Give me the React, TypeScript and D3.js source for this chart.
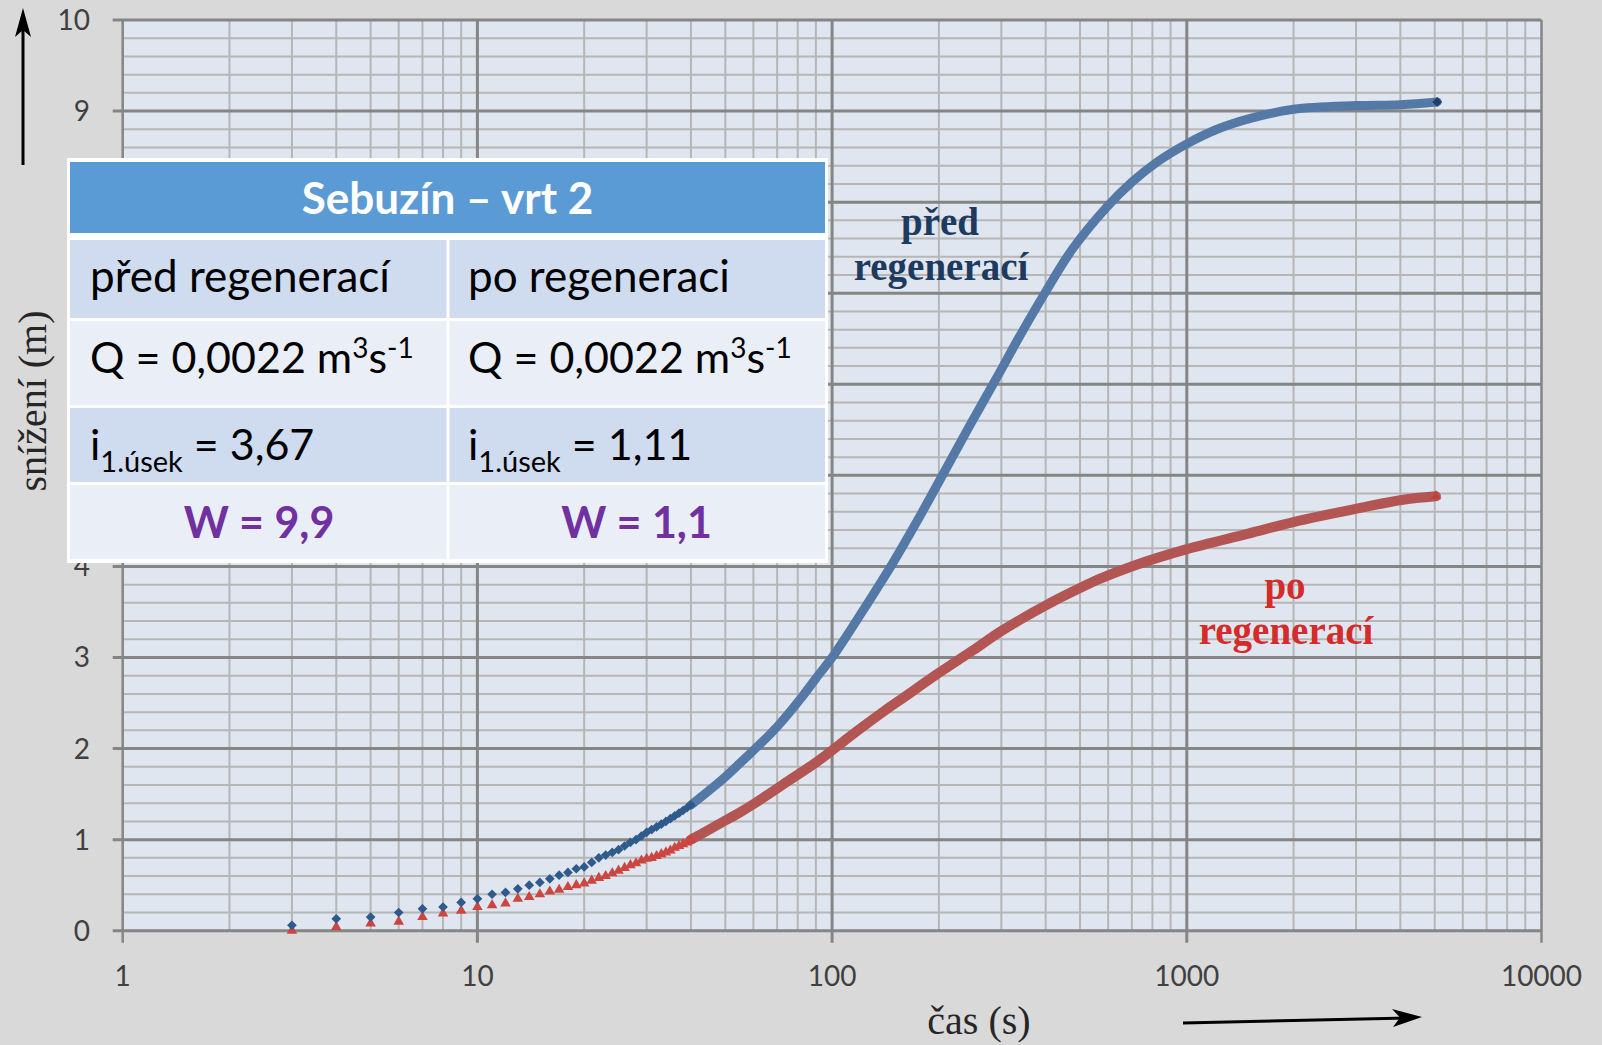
import React from 'react';
import * as d3 from 'd3';

const W = 1602;
const H = 1045;

const xTickValues = [1, 10, 100, 1000, 10000];
const xTickLabels = ['1', '10', '100', '1000', '10000'];
const yTickValues = [0, 1, 2, 3, 4, 5, 6, 7, 8, 9, 10];
const yTickLabels = ['0', '1', '2', '3', '4', '5', '6', '7', '8', '9', '10'];

// discrete early readings (s)
const earlyTimes = [3, 4, 5, 6, 7, 8, 9, 10, 11, 12, 13, 14, 15, 16, 17, 18, 19, 20, 21, 22, 23, 24, 25, 26, 27, 28, 29, 30, 31, 32, 33, 34, 35, 36, 37, 38, 39, 40];
const earlyPred = [0.06, 0.13, 0.15, 0.2, 0.24, 0.26, 0.31, 0.35, 0.4, 0.42, 0.46, 0.5, 0.53, 0.57, 0.61, 0.64, 0.68, 0.7, 0.75, 0.8, 0.83, 0.86, 0.89, 0.93, 0.97, 1.0, 1.04, 1.08, 1.11, 1.14, 1.17, 1.2, 1.23, 1.26, 1.29, 1.32, 1.35, 1.38];
const earlyPo = [0.0, 0.04, 0.08, 0.1, 0.15, 0.19, 0.22, 0.26, 0.28, 0.3, 0.35, 0.37, 0.4, 0.43, 0.45, 0.48, 0.5, 0.52, 0.55, 0.58, 0.6, 0.63, 0.66, 0.69, 0.72, 0.74, 0.77, 0.79, 0.8, 0.82, 0.84, 0.86, 0.88, 0.91, 0.93, 0.95, 0.97, 1.0];

// dense part of the record (merged markers)
const bandTimesPred = [40, 45, 50, 55, 60, 67, 73, 82, 90, 100, 110, 121, 135, 149, 175, 206, 243, 290, 336, 395, 475, 596, 700, 824, 1000, 1217, 1511, 2000, 3000, 4000, 5080];
const bandPred = [1.38, 1.54, 1.69, 1.84, 1.98, 2.16, 2.32, 2.56, 2.77, 3.0, 3.24, 3.49, 3.78, 4.05, 4.52, 5.02, 5.53, 6.06, 6.51, 6.98, 7.48, 7.95, 8.22, 8.44, 8.64, 8.8, 8.92, 9.02, 9.06, 9.07, 9.1];
const bandTimesPo = [40, 45, 50, 55, 60, 73, 91, 100, 112, 125, 140, 159, 200, 250, 300, 404, 505, 570, 699, 1000, 1490, 2010, 3065, 4030, 5040];
const bandPo = [1.0, 1.11, 1.21, 1.3, 1.39, 1.61, 1.86, 1.98, 2.13, 2.27, 2.41, 2.56, 2.83, 3.08, 3.29, 3.58, 3.77, 3.865, 4.0, 4.19, 4.36, 4.49, 4.64, 4.73, 4.77];

const tableTitle = 'Sebuzín – vrt 2';
const colHeaders = ['před regenerací', 'po regeneraci'];
const qValues = ['0,0022', '0,0022'];
const iValues = ['3,67', '1,11'];
const wValues = ['9,9', '1,1'];

const x = d3.scaleLog().domain([1, 10000]).range([122.7, 1541.5]);
const y = d3.scaleLinear().domain([0, 10]).range([930.7, 20]);

const MAJOR = '#858585';
const MINOR = '#b6b6b6';

export default function App() {
  const minorX: number[] = [];
  for (let d = 1; d < 10000; d *= 10) {
    for (let k = 2; k <= 9; k++) minorX.push(d * k);
  }
  const minorY: number[] = [];
  for (let v = 0; v < 10; v++) {
    for (let k = 1; k <= 4; k++) minorY.push(v + k * 0.2);
  }
  const line = d3
    .line<[number, number]>()
    .x((d) => x(d[0]))
    .y((d) => y(d[1]))
    .curve(d3.curveCatmullRom.alpha(0.5));
  const predBand = line(bandTimesPred.map((t, i) => [t, bandPred[i]]) as [number, number][]) || '';
  const poBand = line(bandTimesPo.map((t, i) => [t, bandPo[i]]) as [number, number][]) || '';
  const diamond = d3.symbol().type(d3.symbolDiamond2).size(60)() || '';
  const tri = d3.symbol().type(d3.symbolTriangle).size(48)() || '';

  const font = 'Lato, "Open Sans", sans-serif';
  const serif = '"Liberation Serif", "DejaVu Serif", serif';

  const tL = 70;
  const tR = 825;
  const tMid = 448;
  const rows = [
    { y0: 240, y1: 318, fill: '#cfdbee' },
    { y0: 321, y1: 405, fill: '#e9eef7' },
    { y0: 408, y1: 482, fill: '#cfdbee' },
    { y0: 485, y1: 559, fill: '#e9eef7' },
  ];
  const colX = [90, 468];
  const colC = [(tL + tMid) / 2, (tMid + tR) / 2];

  return (
    <svg width={W} height={H} style={{ position: 'absolute', left: 0, top: 0 }} xmlns="http://www.w3.org/2000/svg">
      <rect x={0} y={0} width={W} height={H} fill="#d9d9d9" />
      <rect x={x(1)} y={y(10)} width={x(10000) - x(1)} height={y(0) - y(10)} fill="#dfe6ef" />
      {/* minor grid */}
      {minorX.map((t) => (
        <line key={'mx' + t} x1={x(t)} x2={x(t)} y1={y(0)} y2={y(10)} stroke={MINOR} strokeWidth={2} />
      ))}
      {minorY.map((v, i) => (
        <line key={'my' + i} x1={x(1)} x2={x(10000)} y1={y(v)} y2={y(v)} stroke={MINOR} strokeWidth={2} />
      ))}
      {/* major grid */}
      {yTickValues.map((v) => (
        <line key={'Y' + v} x1={x(1) - 10} x2={x(10000)} y1={y(v)} y2={y(v)} stroke={MAJOR} strokeWidth={3} />
      ))}
      {xTickValues.map((t) => (
        <line key={'X' + t} x1={x(t)} x2={x(t)} y1={y(10)} y2={y(0) + 12} stroke={MAJOR} strokeWidth={t === 1 || t === 10000 ? 2.5 : 3} />
      ))}
      {/* tick labels */}
      {yTickValues.map((v, i) => (
        <text key={'yl' + v} x={90} y={y(v) + 10} textAnchor="end" fontFamily={font} fontSize={28} fill="#404040">
          {yTickLabels[i]}
        </text>
      ))}
      {xTickValues.map((t, i) => (
        <text key={'xl' + t} x={x(t)} y={986} textAnchor="middle" fontFamily={font} fontSize={28} fill="#404040">
          {xTickLabels[i]}
        </text>
      ))}
      {/* data bands */}
      <path d={poBand} fill="none" stroke="#b35553" strokeWidth={10} strokeLinecap="round" strokeLinejoin="round" />
      <path d={predBand} fill="none" stroke="#5479a7" strokeWidth={9} strokeLinecap="round" strokeLinejoin="round" />
      {earlyTimes.map((t, i) => (
        <path key={'tp' + t} d={tri} transform={`translate(${x(t)},${y(earlyPo[i])})`} fill="#cc4540" />
      ))}
      {earlyTimes.map((t, i) => (
        <path key={'dp' + t} d={diamond} transform={`translate(${x(t)},${y(earlyPred[i])})`} fill="#2f5a8c" />
      ))}
      <path d={diamond} transform={`translate(${x(bandTimesPred[bandTimesPred.length - 1])},${y(bandPred[bandPred.length - 1])})`} fill="#1f3f66" />
      <path d={tri} transform={`translate(${x(bandTimesPo[bandTimesPo.length - 1])},${y(bandPo[bandPo.length - 1])})`} fill="#c0403c" />

      {/* curve labels */}
      <g fontFamily={serif} fontWeight="bold" fontSize={39} textAnchor="middle">
        <text x={940} y={235} fill="#1f3a5f">před</text>
        <text x={941} y={280} fill="#1f3a5f">regenerací</text>
        <text x={1285} y={599} fill="#d42b2b">po</text>
        <text x={1286} y={644} fill="#d42b2b">regenerací</text>
      </g>

      {/* axis titles */}
      <text transform="translate(46,401) rotate(-90)" textAnchor="middle" fontFamily={serif} fontSize={40} fill="#262626">
        snížení (m)
      </text>
      <text x={979} y={1034} textAnchor="middle" fontFamily={serif} fontSize={40} fill="#262626">
        čas (s)
      </text>

      {/* arrows */}
      <line x1={23} y1={165} x2={23} y2={20} stroke="#000" strokeWidth={3} />
      <path d="M23,8 L15,37 L23,30 L31,37 Z" fill="#000" />
      <line x1={1183} y1={1023} x2={1408} y2={1018} stroke="#000" strokeWidth={3} />
      <path d="M1422,1017 L1392,1009 L1400,1017.5 L1393,1027 Z" fill="#000" />

      {/* table */}
      <rect x={tL - 3} y={158} width={tR - tL + 6} height={405} fill="#ffffff" />
      <rect x={tL} y={162} width={tR - tL} height={71} fill="#5b9bd5" />
      <text x={(tL + tR) / 2} y={214} textAnchor="middle" fontFamily={font} fontWeight="bold" fontSize={44} fill="#ffffff">
        {tableTitle}
      </text>
      {rows.map((r, i) => (
        <g key={'row' + i}>
          <rect x={tL} y={r.y0} width={tMid - 1.5 - tL} height={r.y1 - r.y0} fill={r.fill} />
          <rect x={tMid + 1.5} y={r.y0} width={tR - tMid - 1.5} height={r.y1 - r.y0} fill={r.fill} />
        </g>
      ))}
      {[0, 1].map((c) => (
        <g key={'col' + c} fontFamily={font} fill="#000">
          <text x={colX[c]} y={292} fontSize={44}>{colHeaders[c]}</text>
          <text x={colX[c]} y={373} fontSize={43}>
            {'Q = ' + qValues[c] + ' m'}
            <tspan fontSize={28} dy={-15}>3</tspan>
            <tspan fontSize={43} dy={15}>s</tspan>
            <tspan fontSize={28} dy={-15}>-1</tspan>
          </text>
          <text x={colX[c]} y={460} fontSize={43}>
            i
            <tspan fontSize={29} dy={12}>1.úsek</tspan>
            <tspan fontSize={43} dy={-12}>{' = ' + iValues[c]}</tspan>
          </text>
          <text x={colC[c]} y={538} textAnchor="middle" fontSize={43} fontWeight="bold" fill="#7030a0">
            {'W = ' + wValues[c]}
          </text>
        </g>
      ))}
    </svg>
  );
}
